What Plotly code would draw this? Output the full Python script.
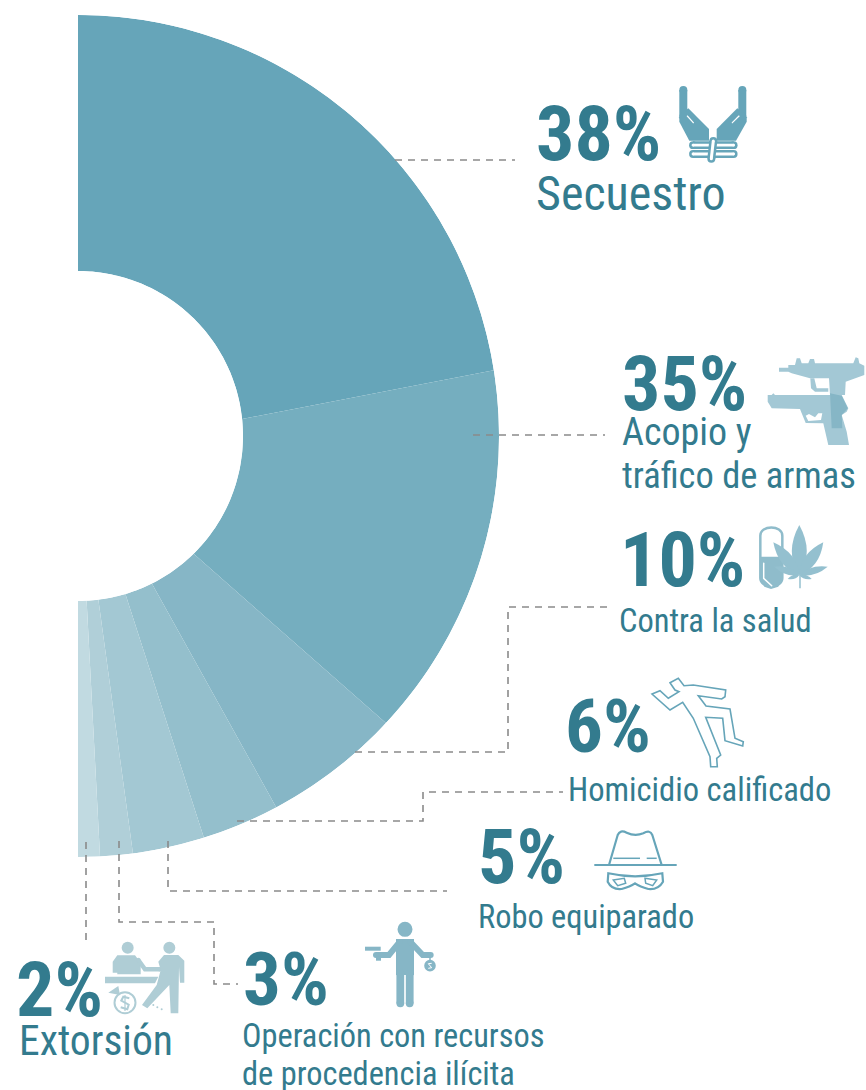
import plotly.graph_objects as go
import math

# ---------- data ----------
categories = ["Secuestro", "Acopio y tráfico de armas", "Contra la salud", "Homicidio calificado",
              "Robo equiparado", "Operación con recursos de procedencia ilícita", "Extorsión"]
percent_labels = ["38%", "35%", "10%", "6%", "5%", "3%", "2%"]
# angular share of each slice as read on the outer and on the inner edge of the half ring
outer_degrees = [81.0, 52.0, 18.9, 10.7, 9.9, 4.5, 3.0]
inner_degrees = [84.1, 51.4, 17.9, 9.9, 9.6, 4.1, 3.0]
slice_colors = ["#66a5b9", "#75aebf", "#86b6c6", "#94bfcc", "#a3c8d3", "#b0cfd8", "#c1dae1"]

TEXT = "#337b8e"
FONT = "Roboto Condensed, Roboto, sans-serif"
W, H = 866, 1090

def arc(a, b):
    n = max(2, int(abs(b - a)) + 2)
    return [a + (b - a) * i / (n - 1) for i in range(n)]

fig = go.Figure()
oa = ia = 0.0
for name, od, id_, col in zip(categories, outer_degrees, inner_degrees, slice_colors):
    outer = arc(oa, oa + od)
    inner = arc(ia + id_, ia)
    fig.add_trace(go.Scatterpolar(theta=outer + inner + [outer[0]],
                                  r=[1] * len(outer) + [0] * len(inner) + [1],
                                  mode="lines", fill="toself", fillcolor=col, line=dict(width=0, color=col),
                                  name=name, hoverinfo="name", showlegend=False, cliponaxis=False))
    oa += od
    ia += id_
fig.add_trace(go.Scatter(x=[], y=[], showlegend=False))

shapes = []
def Z(ox, oy):
    return lambda p: (ox + p[0] / 3, oy + p[1] / 3)

def poly(pts, fill=None, line=None, lw=0, close=True):
    d = "M" + " L".join(f"{x:.1f},{y:.1f}" for x, y in pts) + (" Z" if close else "")
    raw(d, fill, line, lw)

def raw(d, fill=None, line=None, lw=0):
    shapes.append(dict(type="path", path=d, xref="x", yref="y", layer="above",
                       fillcolor=fill if fill else "rgba(0,0,0,0)",
                       line=dict(color=line if line else "rgba(0,0,0,0)", width=lw)))

def circ(cx, cy, r, fill=None, line=None, lw=0):
    shapes.append(dict(type="circle", xref="x", yref="y", layer="above",
                       x0=cx - r, x1=cx + r, y0=cy - r, y1=cy + r,
                       fillcolor=fill if fill else "rgba(0,0,0,0)",
                       line=dict(color=line if line else "rgba(0,0,0,0)", width=lw)))

def thick(pts, w, color):
    poly(pts, line=color, lw=w, close=False)
    for i in (0, -1):
        circ(pts[i][0], pts[i][1], w / 2, fill=color)

def leaf(bx, by, tx, ty, wd, fill):
    mx, my = bx + (tx - bx) * .45, by + (ty - by) * .45
    dx, dy = tx - bx, ty - by
    L = math.hypot(dx, dy)
    nx, ny = -dy / L * wd, dx / L * wd
    raw(f"M{bx:.1f},{by:.1f} Q{mx+nx:.1f},{my+ny:.1f} {tx:.1f},{ty:.1f} Q{mx-nx:.1f},{my-ny:.1f} {bx:.1f},{by:.1f} Z", fill=fill)

def leader(pts):
    d = "M" + " L".join(f"{x},{y}" for x, y in pts)
    shapes.append(dict(type="path", path=d, xref="x", yref="y", layer="above",
                       line=dict(color="#8a8a8a", width=1.6, dash="7px,6px")))

# ---------- leaders ----------
leader([(395, 160), (515, 160)])
leader([(473, 435), (605, 435)])
leader([(355, 752), (508, 752), (508, 607), (608, 607)])
leader([(237, 821), (423, 821), (423, 792), (563, 792)])
leader([(168, 841), (168, 891), (447, 891)])
leader([(119, 841), (119, 922), (214, 922), (214, 984), (238, 984)])
leader([(86, 842), (86, 941)])

# ---------- hands ----------
z = Z(530, 80); c = "#66a5b9"
thick([z((460, 30)), z((460, 110))], 8, c)
thick([z((637, 30)), z((637, 110))], 8, c)
poly([z(p) for p in [(462, 95), (475, 85), (537, 147), (537, 182), (478, 182), (448, 125), (448, 112)]], fill=c)
poly([z(p) for p in [(635, 95), (622, 85), (560, 147), (560, 182), (618, 182), (650, 125), (650, 112)]], fill=c)
thick([z((472, 108)), z((490, 128))], 1.2, "#ffffff")
thick([z((627, 108)), z((607, 128))], 1.2, "#ffffff")
for y0, y1 in [(184, 207), (210, 234)]:
    yc = (y0 + y1) / 2
    thick([z((489, yc)), z((611, yc))], 7.8, c)
    thick([z((489, yc)), z((611, yc))], 2.8, "#ffffff")
thick([z((550, 183)), z((544, 236))], 8, c)
thick([z((550, 183)), z((544, 236))], 3, "#ffffff")

# ---------- guns ----------
z = Z(615, 345); c = "#a3c8d5"
poly([z(p) for p in [(492, 68), (520, 68), (520, 60), (540, 60), (545, 40), (555, 40), (560, 55), (580, 55), (585, 42),
                     (597, 42), (600, 55), (715, 55), (722, 37), (730, 40), (733, 55), (748, 62), (748, 90), (692, 110),
                     (690, 150), (645, 150), (642, 100), (640, 100), (585, 100), (530, 85), (520, 80), (492, 80)]], fill=c)
poly([z(p) for p in [(586, 100), (588, 130), (600, 140), (640, 140), (640, 130), (605, 130), (598, 100)]], fill=c)
poly([z(p) for p in [(458, 150), (470, 150), (475, 145), (480, 150), (680, 150), (700, 190), (695, 200), (680, 210),
                     (695, 260), (702, 300), (640, 300), (625, 235), (572, 234), (560, 205), (555, 192), (470, 190), (458, 170)]], fill=c)
poly([z(p) for p in [(572, 212), (582, 207), (600, 217), (610, 205), (622, 205), (618, 225), (580, 228)]], fill="#ffffff")
poly([z(p) for p in [(645, 145), (680, 152), (698, 190), (680, 210), (682, 250), (650, 250)]], fill="#86b6c6")

# ---------- pill + leaf ----------
z = Z(615, 515); c = "#8fbccb"
poly([z(p) for p in [(436, 125), (502, 125), (502, 190), (490, 215), (468, 222), (448, 215), (436, 190)]], fill=c)
x0, y0 = z((436, 29)); x1, y1 = z((502, 222))
r = (x1 - x0) / 2
raw(f"M{x0},{y0+r} C{x0},{y0} {x1},{y0} {x1},{y0+r} L{x1},{y1-r} C{x1},{y1} {x0},{y1} {x0},{y1-r} Z", line=c, lw=2.5)
thick([z((446, 145)), z((446, 190)), z((470, 212))], 1.5, "#ffffff")
c = "#94c0cf"
b = z((553, 180))
for t, w_ in [((553, 30), 15), ((475, 82), 12), ((625, 82), 12), ((478, 155), 7), ((638, 155), 7), ((518, 192), 4), ((590, 192), 4)]:
    tx, ty = z(t)
    leaf(b[0], b[1], tx, ty, w_, c)
poly([z((555, 175)), z((555, 220))], line=c, lw=1.5, close=False)

# ---------- chalk outline ----------
z = Z(560, 670)
poly([z(p) for p in [(330, 38), (355, 25), (372, 47), (400, 45), (497, 60), (495, 80), (485, 87), (415, 77), (438, 108),
                     (510, 117), (525, 205), (550, 215), (548, 228), (495, 212), (488, 145), (437, 142), (482, 255),
                     (470, 265), (472, 290), (452, 290), (450, 260), (400, 145), (368, 97), (330, 120), (276, 72),
                     (300, 62), (325, 85), (357, 65), (345, 60)]], line="#66a5b9", lw=1.6)

# ---------- hat + mask ----------
z = Z(475, 820); c = "#66a5b9"
def P(p):
    q = z(p); return f"{q[0]:.1f},{q[1]:.1f}"
raw(f"M{P((402,135))} L{P((428,45))} Q{P((435,28))} {P((455,38))} Q{P((480,50))} {P((505,40))} Q{P((525,28))} {P((532,45))} L{P((560,135))}", line=c, lw=2.2)
poly([z((358, 135)), z((605, 135))], line=c, lw=2.2, close=False)
poly([z((415, 115)), z((495, 115))], line=c, lw=1.5, close=False)
poly([z((515, 115)), z((545, 115))], line=c, lw=1.5, close=False)
raw(f"M{P((400,160))} Q{P((480,178))} {P((562,160))} L{P((564,185))} Q{P((550,210))} {P((520,207))} Q{P((495,200))} {P((480,190))} Q{P((465,200))} {P((440,207))} Q{P((410,210))} {P((398,185))} Z", line=c, lw=2.2)
poly([z(p) for p in [(415, 180), (448, 175), (452, 190), (428, 197)]], line=c, lw=1.5)
poly([z(p) for p in [(510, 175), (545, 180), (533, 197), (512, 190)]], line=c, lw=1.5)

# ---------- extortion ----------
z = Z(10, 930); c = "#afcdd5"
for p in [(353, 53), (478, 53)]:
    q = z(p); circ(q[0], q[1], 6, fill=c)
poly([z(p) for p in [(308, 128), (308, 95), (322, 76), (375, 76), (392, 98), (392, 133), (322, 133), (322, 128)]], fill=c)
thick([z((385, 90)), z((405, 118)), z((450, 118))], 4.5, c)
poly([z(p) for p in [(285, 140), (445, 140), (435, 160), (285, 160)]], fill=c)
poly([z(p) for p in [(445, 95), (462, 75), (505, 75), (523, 92), (523, 158), (510, 158), (507, 110), (505, 250),
                     (482, 250), (478, 165), (412, 235), (396, 225), (440, 165), (452, 120)]], fill=c)
q = z((345, 218)); circ(q[0], q[1], 10.5, line=c, lw=2)
poly([z(p) for p in [(295, 188), (325, 168), (330, 195)]], fill=c)
poly([z(p) for p in [(358, 205), (340, 200), (334, 212), (356, 224), (352, 238), (332, 232)]], line=c, lw=2, close=False)
poly([z((345, 195)), z((345, 243))], line=c, lw=1.2, close=False)
for p in [(430, 225), (442, 232), (455, 238)]:
    q = z(p); circ(q[0], q[1], 1, fill=c)

# ---------- money + gun person ----------
z = Z(240, 915); c = "#86b6c6"
q = z((495, 43)); circ(q[0], q[1], 7.5, fill=c)
poly([z(p) for p in [(468, 72), (522, 72), (522, 180), (468, 180)]], fill=c)
thick([z((478, 82)), z((447, 120)), z((408, 120))], 6, c)
thick([z((512, 82)), z((548, 120)), z((572, 120))], 6, c)
thick([z((481, 175)), z((481, 265))], 7.8, c)
thick([z((509, 175)), z((509, 265))], 7.8, c)
poly([z(p) for p in [(375, 95), (422, 95), (422, 107), (375, 107)]], fill=c)
poly([z(p) for p in [(408, 125), (423, 125), (423, 137), (408, 137)]], fill=c)
q = z((570, 152)); circ(q[0], q[1], 5.8, fill=c)
poly([z((570, 128)), z((570, 140))], line=c, lw=1.5, close=False)
poly([z(p) for p in [(575, 145), (565, 146), (575, 158), (565, 160)]], line="#ffffff", lw=1, close=False)

# ---------- text ----------
def label(x, y, s, size, bold=False):
    fig.add_annotation(x=x, y=y, xref="x", yref="y", text=s, showarrow=False, xanchor="left", yanchor="middle",
                       borderpad=0, align="left",
                       font=dict(family=FONT, size=size, color=TEXT, weight=700 if bold else 400))

label(535, 134, percent_labels[0], 76, True)
label(535, 193, categories[0], 48)
label(621, 384, percent_labels[1], 76, True)
label(621, 432, "Acopio y", 38)
label(621, 475, "tráfico de armas", 36.5)
label(619, 560, percent_labels[2], 76, True)
label(618, 621, categories[2], 32.5)
label(564, 726, percent_labels[3], 75, True)
label(567, 790, categories[3], 32.6)
label(477, 857, percent_labels[4], 76, True)
label(477, 917, categories[4], 32.4)
label(242, 979, percent_labels[5], 75, True)
label(241, 1036, "Operación con recursos", 32.4)
label(241, 1074, "de procedencia ilícita", 32.4)
label(15, 990, percent_labels[6], 76, True)
label(18, 1040, categories[6], 41.6)

fig.update_layout(
    width=W, height=H, margin=dict(l=0, r=0, t=0, b=0), autosize=False,
    paper_bgcolor="white", plot_bgcolor="rgba(0,0,0,0)", showlegend=False, shapes=shapes,
    xaxis=dict(range=[0, W], visible=False, fixedrange=True, domain=[0, 1]),
    yaxis=dict(range=[H, 0], visible=False, fixedrange=True, domain=[0, 1]),
    polar=dict(domain=dict(x=[78 / W, 499 / W], y=[1 - 857 / H, 1 - 15 / H]),
               sector=[-90, 90], hole=165 / 421, bgcolor="rgba(0,0,0,0)",
               angularaxis=dict(visible=False, rotation=90, direction="clockwise"),
               radialaxis=dict(visible=False, range=[0, 1])),
)
fig.write_html("out.html", post_script="document.body.style.margin='0';", config=dict(displayModeBar=False))
